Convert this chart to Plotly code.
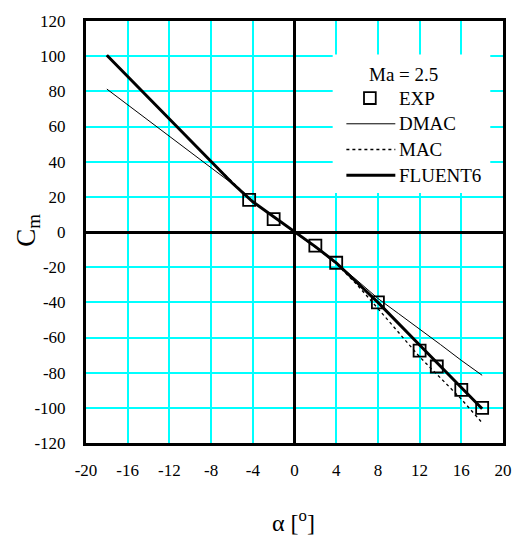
import plotly.graph_objects as go

# Data
exp_alpha = [-4.35, -2.0, 2.0, 4.0, 8.0, 12.0, 13.65, 16.0, 18.0]
exp_cm = [18.3, 7.3, -7.7, -17.5, -40.0, -67.5, -76.5, -89.8, -100.0]

dmac_alpha = [-18, -14, -10, -8, -6, -4, -2, 0, 2, 4, 6, 8, 10, 12, 14, 16, 18]
dmac_cm = [81.3, 63.3, 45.4, 36.4, 27.6, 17.2, 8.6, 0.0, -8.5, -17.5, -27.5, -37.8, -46.5, -55.0, -64.0, -73.0, -81.5]

mac_alpha = [-18, -8, -4, -2, 0, 2, 4, 6, 8, 10, 12, 14, 16, 18]
mac_cm = [100.5, 40.1, 17.2, 8.6, 0.0, -8.4, -18.0, -30.0, -43.5, -57.0, -71.0, -83.0, -95.0, -108.5]

fl_alpha = [-18, -12, -8, -6, -4, -2, 0, 2, 4, 6, 8, 12, 16, 18]
fl_cm = [100.5, 64.3, 40.1, 28.0, 17.2, 8.6, 0.0, -8.3, -17.5, -28.5, -40.0, -64.3, -88.5, -100.5]

x_ticks = [-20, -16, -12, -8, -4, 0, 4, 8, 12, 16, 20]
y_ticks = [-120, -100, -80, -60, -40, -20, 0, 20, 40, 60, 80, 100, 120]

legend_title = "Ma = 2.5"
legend_names = ["EXP", "DMAC", "MAC", "FLUENT6"]

FONT = "Liberation Serif"

W, H = 524, 539
ML, MR, MT, MB = 86, 12, 16, 96
PW, PH = W - ML - MR, H - MT - MB


def px(x):
    return (x - ML) / PW


def py(y):
    return 1 - (y - MT) / PH


fig = go.Figure()
fig.add_trace(go.Scatter(x=exp_alpha, y=exp_cm, mode="markers", name=legend_names[0],
                         marker=dict(symbol="square-open", size=12, color="black",
                                     line=dict(width=1.8, color="black"))))
fig.add_trace(go.Scatter(x=dmac_alpha, y=dmac_cm, mode="lines", name=legend_names[1],
                         line=dict(color="black", width=1)))
fig.add_trace(go.Scatter(x=mac_alpha, y=mac_cm, mode="lines", name=legend_names[2],
                         line=dict(color="black", width=1.3, dash="dot")))
fig.add_trace(go.Scatter(x=fl_alpha, y=fl_cm, mode="lines", name=legend_names[3],
                         line=dict(color="black", width=3)))

# legend drawn by hand (box, symbols, texts)
row_y = [94, 120, 146, 172]
shapes = [
    dict(type="rect", xref="paper", yref="paper",
         x0=px(338), x1=px(499), y0=py(190), y1=py(50),
         fillcolor="white", line=dict(width=0), layer="above"),
    dict(type="rect", xref="paper", yref="paper",
         x0=px(370), x1=px(382), y0=py(row_y[0] + 6), y1=py(row_y[0] - 6),
         fillcolor="rgba(0,0,0,0)", line=dict(color="black", width=1.8), layer="above"),
    dict(type="line", xref="paper", yref="paper",
         x0=px(352), x1=px(402), y0=py(row_y[1]), y1=py(row_y[1]),
         line=dict(color="black", width=1), layer="above"),
    dict(type="line", xref="paper", yref="paper",
         x0=px(352), x1=px(402), y0=py(row_y[2]), y1=py(row_y[2]),
         line=dict(color="black", width=1.3, dash="dot"), layer="above"),
    dict(type="line", xref="paper", yref="paper",
         x0=px(352), x1=px(402), y0=py(row_y[3]), y1=py(row_y[3]),
         line=dict(color="black", width=3), layer="above"),
]

annotations = [
    dict(text=legend_title, xref="paper", yref="paper", x=px(410), y=py(70),
         xanchor="center", yanchor="middle", showarrow=False,
         font=dict(family=FONT, size=19, color="black")),
]
for name, ry in zip(legend_names, row_y):
    annotations.append(dict(text=name, xref="paper", yref="paper", x=px(404), y=py(ry),
                            xanchor="left", yanchor="middle", showarrow=False,
                            font=dict(family=FONT, size=19, color="black")))
annotations += [
    dict(text="C<sub>m</sub>", xref="paper", yref="paper",
         x=px(26), y=py(228), xanchor="center", yanchor="middle",
         showarrow=False, textangle=-90,
         font=dict(family=FONT, size=27, color="black")),
    dict(text="α [<sup>o</sup>]", xref="paper", yref="paper",
         x=px(298), y=py(522), xanchor="center", yanchor="middle",
         showarrow=False,
         font=dict(family=FONT, size=24, color="black")),
]

fig.update_layout(
    width=W, height=H,
    margin=dict(l=ML, r=MR, t=MT, b=MB),
    paper_bgcolor="white", plot_bgcolor="white",
    font=dict(family=FONT, size=17, color="black"),
    showlegend=False,
    shapes=shapes,
    annotations=annotations,
    xaxis=dict(
        range=[-20, 20], tickmode="array", tickvals=x_ticks,
        ticktext=[str(v) for v in x_ticks],
        showgrid=True, gridcolor="#00FFFF", gridwidth=1.5,
        zeroline=True, zerolinecolor="black", zerolinewidth=2.5,
        showline=True, linecolor="black", linewidth=3, mirror=True,
        ticks="", ticklabelstandoff=10,
        tickfont=dict(family=FONT, size=17, color="black"),
    ),
    yaxis=dict(
        range=[-120, 120], tickmode="array", tickvals=y_ticks,
        ticktext=[str(v) for v in y_ticks],
        showgrid=True, gridcolor="#00FFFF", gridwidth=1.5,
        zeroline=True, zerolinecolor="black", zerolinewidth=2.5,
        showline=True, linecolor="black", linewidth=3, mirror=True,
        ticks="", ticklabelstandoff=14,
        tickfont=dict(family=FONT, size=17, color="black"),
    ),
)

fig.write_html("out.html")
